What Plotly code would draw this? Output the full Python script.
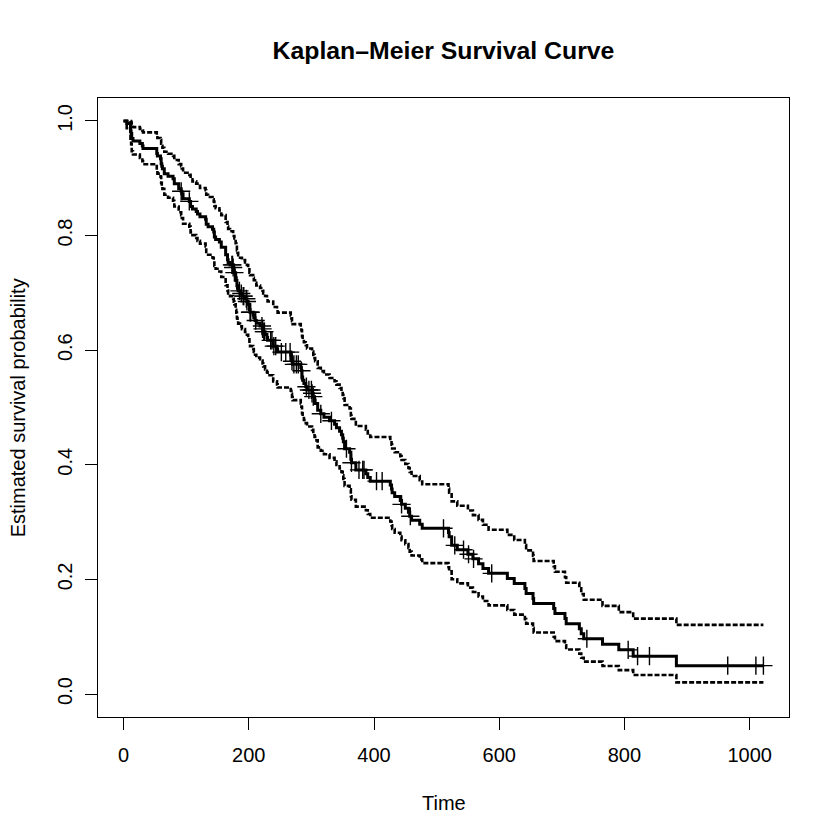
import numpy as np
import plotly.graph_objects as go

# Kaplan-Meier steps (time, survival, 95% CI)
km_time = [0, 5, 11, 12, 13, 15, 26, 30, 31, 53, 54, 59, 60, 61, 62, 65, 71, 79, 81, 88,
           92, 93, 95, 105, 107, 110, 116, 118, 122, 131, 132, 135, 142, 144, 145, 147, 153, 156, 163, 166,
           167, 170, 175, 176, 177, 179, 180, 181, 182, 183, 186, 189, 194, 197, 199, 201, 202, 207, 208, 210,
           212, 218, 222, 223, 226, 229, 230, 239, 245, 246, 267, 268, 269, 270, 283, 284, 285, 286, 288, 291,
           293, 301, 303, 305, 306, 310, 315, 320, 329, 337, 340, 345, 348, 350, 351, 353, 361, 363, 364, 371,
           387, 390, 394, 426, 428, 429, 433, 442, 444, 450, 455, 457, 460, 473, 477, 519, 520, 524, 533, 550,
           558, 567, 574, 583, 613, 624, 641, 643, 654, 655, 687, 689, 705, 707, 728, 731, 735, 765, 791, 814,
           883, 1022]
km_surv = [1.0, 0.9956, 0.9825, 0.9781, 0.9693, 0.9649, 0.9605, 0.9561, 0.9518, 0.9430, 0.9386, 0.9342, 0.9254, 0.9211, 0.9167, 0.9079, 0.9035, 0.8991, 0.8904, 0.8816,
           0.8772, 0.8728, 0.8640, 0.8596, 0.8507, 0.8463, 0.8418, 0.8374, 0.8330, 0.8285, 0.8197, 0.8153, 0.8108, 0.8064, 0.7975, 0.7931, 0.7887, 0.7798, 0.7665, 0.7577,
           0.7532, 0.7488, 0.7443, 0.7398, 0.7353, 0.7262, 0.7217, 0.7126, 0.7080, 0.7035, 0.6989, 0.6943, 0.6897, 0.6850, 0.6803, 0.6708, 0.6661, 0.6613, 0.6565, 0.6517,
           0.6469, 0.6421, 0.6372, 0.6323, 0.6273, 0.6223, 0.6172, 0.6070, 0.6019, 0.5967, 0.5913, 0.5860, 0.5807, 0.5753, 0.5698, 0.5642, 0.5531, 0.5475, 0.5419, 0.5363,
           0.5306, 0.5248, 0.5189, 0.5129, 0.5070, 0.4950, 0.4890, 0.4830, 0.4768, 0.4707, 0.4646, 0.4585, 0.4524, 0.4463, 0.4402, 0.4280, 0.4218, 0.4096, 0.4035, 0.3911,
           0.3846, 0.3780, 0.3715, 0.3648, 0.3580, 0.3513, 0.3445, 0.3378, 0.3310, 0.3241, 0.3172, 0.3103, 0.3033, 0.2962, 0.2892, 0.2818, 0.2744, 0.2595, 0.2519, 0.2440,
           0.2359, 0.2275, 0.2190, 0.2106, 0.2018, 0.1931, 0.1843, 0.1755, 0.1668, 0.1580, 0.1492, 0.1404, 0.1317, 0.1229, 0.1141, 0.1053, 0.0965, 0.0869, 0.0772, 0.0662,
           0.0496, 0.0496]
km_lower = [1.0, 0.9871, 0.9656, 0.9593, 0.9472, 0.9413, 0.9355, 0.9299, 0.9244, 0.9134, 0.9080, 0.9026, 0.8919, 0.8868, 0.8815, 0.8711, 0.8660, 0.8608, 0.8508, 0.8406,
            0.8356, 0.8306, 0.8206, 0.8156, 0.8056, 0.8007, 0.7957, 0.7908, 0.7859, 0.7809, 0.7712, 0.7664, 0.7614, 0.7566, 0.7469, 0.7421, 0.7373, 0.7277, 0.7134, 0.7039,
            0.6991, 0.6944, 0.6896, 0.6848, 0.6800, 0.6704, 0.6656, 0.6559, 0.6511, 0.6464, 0.6415, 0.6367, 0.6318, 0.6269, 0.6219, 0.6120, 0.6071, 0.6020, 0.5970, 0.5920,
            0.5870, 0.5820, 0.5769, 0.5718, 0.5666, 0.5614, 0.5562, 0.5456, 0.5403, 0.5349, 0.5293, 0.5238, 0.5184, 0.5128, 0.5071, 0.5014, 0.4899, 0.4842, 0.4784, 0.4727,
            0.4669, 0.4609, 0.4549, 0.4488, 0.4427, 0.4305, 0.4245, 0.4184, 0.4121, 0.4060, 0.3998, 0.3937, 0.3876, 0.3815, 0.3754, 0.3633, 0.3571, 0.3451, 0.3391, 0.3270,
            0.3206, 0.3141, 0.3077, 0.3012, 0.2945, 0.2880, 0.2814, 0.2749, 0.2684, 0.2617, 0.2551, 0.2485, 0.2418, 0.2350, 0.2284, 0.2213, 0.2143, 0.2003, 0.1932, 0.1858,
            0.1782, 0.1703, 0.1624, 0.1547, 0.1466, 0.1387, 0.1307, 0.1229, 0.1152, 0.1075, 0.0999, 0.0924, 0.0851, 0.0778, 0.0706, 0.0635, 0.0566, 0.0491, 0.0417, 0.0333,
            0.0204, 0.0204]
km_upper = [1.0, 1.0, 0.9997, 0.9973, 0.9920, 0.9891, 0.9861, 0.9831, 0.9800, 0.9736, 0.9703, 0.9669, 0.9601, 0.9568, 0.9533, 0.9462, 0.9426, 0.9391, 0.9319, 0.9246,
            0.9209, 0.9171, 0.9097, 0.9059, 0.8983, 0.8945, 0.8906, 0.8867, 0.8829, 0.8790, 0.8712, 0.8674, 0.8634, 0.8595, 0.8515, 0.8476, 0.8436, 0.8356, 0.8236, 0.8156,
            0.8115, 0.8074, 0.8033, 0.7992, 0.7951, 0.7867, 0.7826, 0.7742, 0.7699, 0.7657, 0.7614, 0.7572, 0.7529, 0.7485, 0.7442, 0.7353, 0.7309, 0.7264, 0.7219, 0.7174,
            0.7129, 0.7084, 0.7038, 0.6992, 0.6945, 0.6898, 0.6850, 0.6753, 0.6705, 0.6656, 0.6605, 0.6555, 0.6505, 0.6454, 0.6402, 0.6349, 0.6245, 0.6191, 0.6138, 0.6085,
            0.6030, 0.5975, 0.5919, 0.5862, 0.5806, 0.5691, 0.5634, 0.5576, 0.5516, 0.5458, 0.5399, 0.5340, 0.5281, 0.5221, 0.5162, 0.5043, 0.4982, 0.4861, 0.4801, 0.4678,
            0.4614, 0.4549, 0.4485, 0.4419, 0.4352, 0.4285, 0.4218, 0.4151, 0.4083, 0.4014, 0.3944, 0.3875, 0.3805, 0.3733, 0.3662, 0.3588, 0.3513, 0.3362, 0.3285, 0.3204,
            0.3123, 0.3039, 0.2953, 0.2867, 0.2778, 0.2689, 0.2599, 0.2507, 0.2416, 0.2323, 0.2229, 0.2134, 0.2039, 0.1942, 0.1844, 0.1745, 0.1645, 0.1539, 0.1430, 0.1316,
            0.1208, 0.1208]

# censoring times (plus marks)
censor_time = [92, 105, 173, 174, 175, 177, 185, 188, 191, 192, 196, 197, 202, 203, 211, 221, 222, 224, 225,
               235, 237, 240, 243, 252, 259, 266, 269, 272, 276, 279, 284, 292, 296, 300, 301, 303, 315, 332,
               356, 364, 376, 382, 384, 404, 413, 444, 458, 511, 529, 543, 551, 559, 588, 740, 806, 821, 840,
               965, 1010, 1022]

x_ticks = [0, 200, 400, 600, 800, 1000]
y_ticks = [0.0, 0.2, 0.4, 0.6, 0.8, 1.0]

# marks sit on the step curve at each censoring time
idx = np.searchsorted(km_time, censor_time, side='right') - 1
censor_surv = [km_surv[i] for i in idx]

font = 'Liberation Sans, Arial, Helvetica, sans-serif'

fig = go.Figure()
for band in [km_upper, km_lower]:
    fig.add_trace(go.Scatter(x=km_time, y=band, mode='lines', line_shape='hv',
                             line=dict(color='black', width=2.6, dash='5px,2px'),
                             hoverinfo='skip', showlegend=False))
fig.add_trace(go.Scatter(x=km_time, y=km_surv, mode='lines', line_shape='hv',
                         line=dict(color='black', width=3), showlegend=False))
fig.add_trace(go.Scatter(x=censor_time, y=censor_surv, mode='markers',
                         marker=dict(symbol='cross-thin', size=13, line=dict(color='black', width=1.4)),
                         showlegend=False))

axis_style = dict(showgrid=False, zeroline=False, showline=True, mirror=True,
                  linecolor='black', linewidth=1.2, ticks='outside', ticklen=12,
                  tickwidth=1.2, tickcolor='black',
                  tickfont=dict(family=font, size=20, color='black'))

fig.update_xaxes(range=[-40.88, 1062.88], tickvals=x_ticks,
                 ticktext=[str(v) for v in x_ticks], ticklabelstandoff=8, **axis_style)
fig.update_yaxes(range=[-0.04, 1.04], tickvals=y_ticks,
                 ticktext=['%.1f' % v for v in y_ticks], tickangle=-90,
                 ticklabelstandoff=5, **axis_style)

# the page puts the figure 8px in from the top-left corner
fig.update_layout(
    width=840, height=840,
    margin=dict(l=90, r=59, t=90, b=131),
    paper_bgcolor='white', plot_bgcolor='white',
    title=dict(text='Kaplan–Meier Survival Curve', x=0.5, xref='paper',
               y=1 - 42 / 840, yref='container', yanchor='middle',
               font=dict(family=font, size=24.8, color='black', weight='bold')),
    annotations=[
        dict(text='Time', xref='paper', yref='paper', x=0.5, y=-0.139,
             showarrow=False, yanchor='middle',
             font=dict(family=font, size=20, color='black')),
        dict(text='Estimated survival probability', xref='paper', yref='paper',
             x=-0.116, y=0.5, textangle=-90, showarrow=False, xanchor='center',
             font=dict(family=font, size=20, color='black')),
    ],
)

fig.write_html("out.html")
